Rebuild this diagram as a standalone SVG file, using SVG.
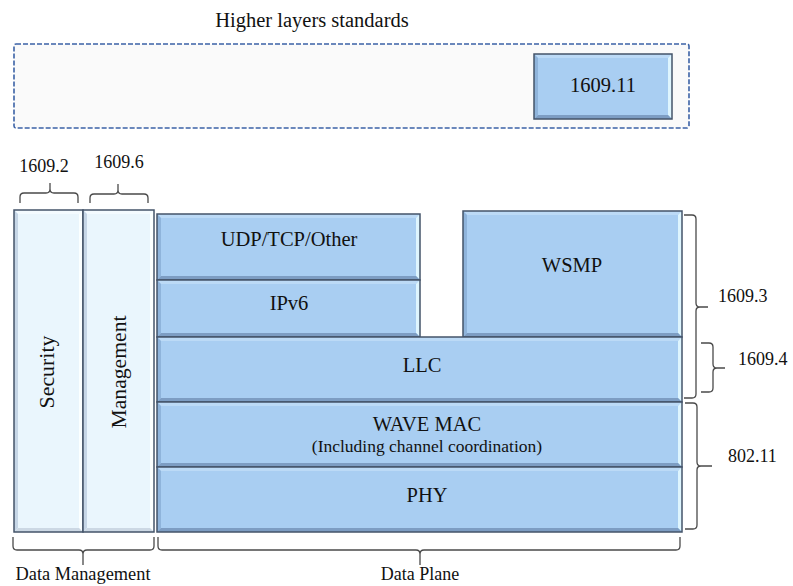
<svg xmlns="http://www.w3.org/2000/svg" width="793" height="586" viewBox="0 0 793 586">
  <style>
    text { font-family: "Liberation Serif", "Times New Roman", serif; fill: #111; }
    .lbl { font-size: 20.5px; text-anchor: middle; }
    .sm { font-size: 18px; }
    .note { font-size: 17.5px; }
    .mid { text-anchor: middle; }
    .frame { fill: none; stroke: #44546a; stroke-width: 1.5; }
    .b-base { fill: #a9cef2; }
    .b-top { fill: #bcdaf6; }
    .b-left { fill: #8fb4db; }
    .b-right { fill: #def5fe; }
    .b-bot { fill: #7d9dc3; }
    .l-base { fill: #eaf6fd; }
    .l-top { fill: #f4fbff; }
    .l-left { fill: #c6d6e6; }
    .l-right { fill: #fbffff; }
    .l-bot { fill: #ccd8e4; }
    .brace { fill: none; stroke: #4a4a4a; stroke-width: 1.3; }
  </style>

  <!-- higher layers container -->
  <g id="higher-layers">
    <text x="312" y="27" class="lbl">Higher layers standards</text>
    <rect x="14" y="44" width="675" height="84" rx="2" fill="#fafafa" stroke="#3b62a6" stroke-width="1.6" stroke-dasharray="5 2"/>
  </g>

  <g id="n1609-11">
    <rect x="534" y="54" width="138" height="65" class="b-base"/>
    <polygon points="534,54 672,54 668,58 538,58" class="b-top"/>
    <polygon points="534,54 538,58 538,115 534,119" class="b-left"/>
    <polygon points="672,54 672,119 668,115 668,58" class="b-right"/>
    <polygon points="534,119 672,119 668,115 538,115" class="b-bot"/>
    <rect x="534" y="54" width="138" height="65" class="frame"/>
    <text x="603" y="92" class="lbl">1609.11</text>
  </g>

  <!-- management plane columns -->
  <g id="security">
    <rect x="14" y="210" width="69" height="322" class="l-base"/>
    <polygon points="14,210 83,210 79,214 18,214" class="l-top"/>
    <polygon points="14,210 18,214 18,528 14,532" class="l-left"/>
    <polygon points="83,210 83,532 79,528 79,214" class="l-right"/>
    <polygon points="14,532 83,532 79,528 18,528" class="l-bot"/>
    <rect x="14" y="210" width="69" height="322" class="frame"/>
    <text transform="translate(54,372) rotate(-90)" class="lbl" textLength="73" lengthAdjust="spacingAndGlyphs">Security</text>
  </g>

  <g id="management">
    <rect x="83" y="210" width="71" height="322" class="l-base"/>
    <polygon points="83,210 154,210 150,214 87,214" class="l-top"/>
    <polygon points="83,210 87,214 87,528 83,532" class="l-left"/>
    <polygon points="154,210 154,532 150,528 150,214" class="l-right"/>
    <polygon points="83,532 154,532 150,528 87,528" class="l-bot"/>
    <rect x="83" y="210" width="71" height="322" class="frame"/>
    <text transform="translate(126,372) rotate(-90)" class="lbl" textLength="113" lengthAdjust="spacingAndGlyphs">Management</text>
  </g>

  <!-- data plane stack -->
  <g id="udp-tcp">
    <rect x="157" y="214" width="263" height="66" class="b-base"/>
    <polygon points="157,214 420,214 416,218 161,218" class="b-top"/>
    <polygon points="157,214 161,218 161,276 157,280" class="b-left"/>
    <polygon points="420,214 420,280 416,276 416,218" class="b-right"/>
    <polygon points="157,280 420,280 416,276 161,276" class="b-bot"/>
    <rect x="157" y="214" width="263" height="66" class="frame"/>
    <text x="289" y="246" class="lbl">UDP/TCP/Other</text>
  </g>

  <g id="ipv6">
    <rect x="157" y="280" width="263" height="57" class="b-base"/>
    <polygon points="157,280 420,280 416,284 161,284" class="b-top"/>
    <polygon points="157,280 161,284 161,333 157,337" class="b-left"/>
    <polygon points="420,280 420,337 416,333 416,284" class="b-right"/>
    <polygon points="157,337 420,337 416,333 161,333" class="b-bot"/>
    <rect x="157" y="280" width="263" height="57" class="frame"/>
    <text x="289" y="310" class="lbl">IPv6</text>
  </g>

  <g id="wsmp">
    <rect x="463" y="211" width="219" height="126" class="b-base"/>
    <polygon points="463,211 682,211 678,215 467,215" class="b-top"/>
    <polygon points="463,211 467,215 467,333 463,337" class="b-left"/>
    <polygon points="682,211 682,337 678,333 678,215" class="b-right"/>
    <polygon points="463,337 682,337 678,333 467,333" class="b-bot"/>
    <rect x="463" y="211" width="219" height="126" class="frame"/>
    <text x="572" y="272" class="lbl">WSMP</text>
  </g>

  <g id="llc">
    <rect x="157" y="337" width="525" height="65" class="b-base"/>
    <polygon points="157,337 682,337 678,341 161,341" class="b-top"/>
    <polygon points="157,337 161,341 161,398 157,402" class="b-left"/>
    <polygon points="682,337 682,402 678,398 678,341" class="b-right"/>
    <polygon points="157,402 682,402 678,398 161,398" class="b-bot"/>
    <rect x="157" y="337" width="525" height="65" class="frame"/>
    <text x="422" y="372" class="lbl">LLC</text>
  </g>

  <g id="wave-mac">
    <rect x="157" y="402" width="525" height="65" class="b-base"/>
    <polygon points="157,402 682,402 678,406 161,406" class="b-top"/>
    <polygon points="157,402 161,406 161,463 157,467" class="b-left"/>
    <polygon points="682,402 682,467 678,463 678,406" class="b-right"/>
    <polygon points="157,467 682,467 678,463 161,463" class="b-bot"/>
    <rect x="157" y="402" width="525" height="65" class="frame"/>
    <text x="427" y="431" class="lbl">WAVE MAC</text>
    <text x="427" y="452" class="note mid">(Including channel coordination)</text>
  </g>

  <g id="phy">
    <rect x="157" y="467" width="525" height="65" class="b-base"/>
    <polygon points="157,467 682,467 678,471 161,471" class="b-top"/>
    <polygon points="157,467 161,471 161,528 157,532" class="b-left"/>
    <polygon points="682,467 682,532 678,528 678,471" class="b-right"/>
    <polygon points="157,532 682,532 678,528 161,528" class="b-bot"/>
    <rect x="157" y="467" width="525" height="65" class="frame"/>
    <text x="427" y="502" class="lbl">PHY</text>
  </g>

  <!-- standard braces and their labels -->
  <g id="connectors">
    <path class="brace" d="M20,203 V197 Q20,193 24,193 H46 Q50,193 50,189 V183 M50,189 Q50,193 54,193 H74 Q78,193 78,197 V203"/>
    <path class="brace" d="M90,203 V198 Q90,194 94,194 H114 Q118,194 118,190 V184 M118,190 Q118,194 122,194 H144 Q148,194 148,198 V203"/>

    <path class="brace" d="M684,215 H692 Q696,215 696,219 V303 Q696,307 700,307 H708 M700,307 Q696,307 696,311 V394 Q696,398 692,398 H684"/>
    <path class="brace" d="M701,343 H709 Q713,343 713,347 V364 Q713,368 717,368 H725 M717,368 Q713,368 713,372 V388 Q713,392 709,392 H701"/>
    <path class="brace" d="M685,403 H693 Q697,403 697,407 V462 Q697,466 701,466 H712 M701,466 Q697,466 697,470 V525 Q697,529 693,529 H685"/>

    <path class="brace" d="M13,537 V546 Q13,550 17,550 H79 Q83,550 83,554 V565 M83,554 Q83,550 87,550 H150 Q154,550 154,546 V537"/>
    <path class="brace" d="M158,537 V546 Q158,550 162,550 H416 Q420,550 420,554 V565 M420,554 Q420,550 424,550 H676 Q680,550 680,546 V537"/>
  </g>

  <g id="brace-labels">
    <text x="44" y="172" class="sm mid">1609.2</text>
    <text x="119" y="168" class="sm mid">1609.6</text>
    <text x="718" y="302" class="sm">1609.3</text>
    <text x="738" y="365" class="sm">1609.4</text>
    <text x="728" y="462" class="sm">802.11</text>
    <text x="83" y="580" class="sm mid" textLength="135" lengthAdjust="spacingAndGlyphs">Data Management</text>
    <text x="420" y="580" class="sm mid">Data Plane</text>
  </g>
</svg>
